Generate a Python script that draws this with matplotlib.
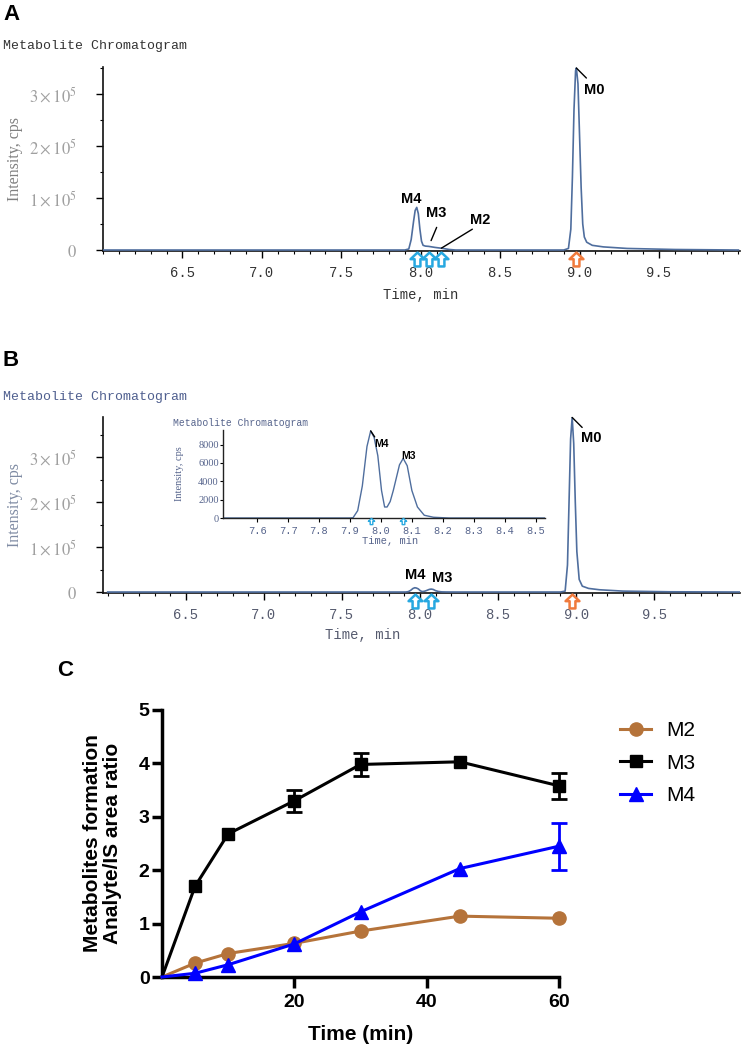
import matplotlib
matplotlib.use('Agg')
import matplotlib.pyplot as plt
import numpy as np
from matplotlib.path import Path
from matplotlib.ticker import MultipleLocator, FixedLocator, FuncFormatter

plt.rcParams['mathtext.fontset'] = 'stix'

# ---------------- data ----------------
# Panel A chromatogram (time in min, intensity in cps)
a_time = [6.00, 7.90, 7.925, 7.94, 7.955, 7.965, 7.975, 7.985, 7.995, 8.005, 8.015,
          8.03, 8.05, 8.07, 8.09, 8.11, 8.13, 8.15, 8.18, 8.22,
          8.90, 8.93, 8.945, 8.955, 8.965, 8.975, 8.98, 8.99, 9.00, 9.01, 9.02, 9.03, 9.045,
          9.08, 9.15, 9.30, 9.60, 10.00]
a_int = [0, 0, 2000, 20000, 55000, 76000, 82000, 70000, 40000, 17000, 9000,
         7500, 7000, 6000, 5000, 4200, 3500, 2500, 1000, 0,
         0, 3000, 40000, 140000, 270000, 345000, 350000, 320000, 220000, 120000, 50000, 25000, 15000,
         9000, 6000, 3000, 1000, 0]

# Panel B chromatogram (time in min, intensity in cps); also shown zoomed in the inset
b_time = [6.00, 7.90, 7.91, 7.925, 7.94, 7.955, 7.967, 7.978, 7.99, 8.002, 8.012,
          8.02, 8.03, 8.04, 8.05, 8.06, 8.072, 8.085, 8.10, 8.118, 8.14, 8.17, 8.22,
          8.90, 8.93, 8.945, 8.955, 8.965, 8.975, 8.985, 8.995, 9.005, 9.02, 9.04,
          9.08, 9.15, 9.30, 9.60, 10.05]
b_int = [0, 0, 30, 800, 3500, 7800, 9500, 8800, 6800, 3000, 1200,
         1200, 1800, 3000, 4400, 5800, 6500, 5700, 3000, 1200, 300, 80, 0,
         0, 2000, 60000, 200000, 340000, 388000, 330000, 200000, 90000, 28000, 13000,
         8000, 5000, 2000, 500, 0]

# metabolite markers (retention times)
a_metab_times = [7.975, 8.05, 8.13]
a_parent_time = [8.98]
b_metab_times = [7.967, 8.072]
b_parent_time = [8.975]

# Panel C: time course
c_time = [0, 5, 10, 20, 30, 45, 60]
m2_vals = [0, 0.26, 0.44, 0.63, 0.86, 1.14, 1.10]
m2_err = [0, 0, 0, 0, 0, 0, 0]
m3_vals = [0, 1.70, 2.68, 3.30, 3.98, 4.03, 3.58]
m3_err = [0, 0, 0, 0.21, 0.21, 0, 0.24]
m4_vals = [0, 0.07, 0.23, 0.62, 1.22, 2.03, 2.45]
m4_err = [0, 0, 0, 0, 0, 0, 0.44]
c_labels = ['M2', 'M3', 'M4']

# ---------------- figure ----------------
W, H = 742, 1047
fig = plt.figure(figsize=(W / 100, H / 100), dpi=100)


def fx(px):
    return px / W


def fy(py):
    return 1 - py / H


def rect(l, t, r, b):
    return [fx(l), fy(b), (r - l) / W, (b - t) / H]


trace_color = '#4f6e9e'
cyan = '#27a8e0'
orange = '#f07a3c'
mono = 'Liberation Mono'
serif = 'Liberation Serif'
sans = 'Liberation Sans'

arrow_path = Path([(0, 1), (-1, 0.05), (-0.42, 0.05), (-0.42, -1), (0.42, -1),
                   (0.42, 0.05), (1, 0.05), (0, 1)],
                  [Path.MOVETO] + [Path.LINETO] * 6 + [Path.CLOSEPOLY])


def sci_fmt(v, pos):
    if abs(v) < 1:
        return r'$0$'
    return r'$%d\times10^{5}$' % round(v / 1e5)


def chrom_axes(ax, times, ints, xlim, ylim, tick_col, ylab_col):
    ax.plot(times, ints, color=trace_color, lw=1.2, zorder=3)
    ax.set_xlim(*xlim)
    ax.set_ylim(*ylim)
    for s in ['top', 'right']:
        ax.spines[s].set_visible(False)
    for s in ['left', 'bottom']:
        ax.spines[s].set_linewidth(1.2)
        ax.spines[s].set_color('#111111')
    ax.xaxis.set_major_locator(FixedLocator([6.5, 7.0, 7.5, 8.0, 8.5, 9.0, 9.5]))
    ax.xaxis.set_minor_locator(MultipleLocator(0.1))
    ax.yaxis.set_major_locator(FixedLocator([0, 1e5, 2e5, 3e5]))
    ax.yaxis.set_minor_locator(MultipleLocator(0.5e5))
    ax.yaxis.set_major_formatter(FuncFormatter(sci_fmt))
    ax.xaxis.set_major_formatter(FuncFormatter(lambda v, p: '%.1f' % v))
    ax.tick_params(axis='x', which='major', length=5, width=1.0, pad=6,
                   labelsize=10, labelcolor=tick_col)
    ax.tick_params(axis='x', which='minor', length=2.5, width=0.8)
    ax.tick_params(axis='y', which='major', length=5, width=1.0, pad=14,
                   labelsize=12, labelcolor='#a0a0a0')
    ax.tick_params(axis='y', which='minor', length=2.5, width=0.8)
    for lab in ax.get_xticklabels():
        lab.set_family(mono)
    ax.set_xlabel('Time, min', family=mono, fontsize=10, color=tick_col)
    ax.set_ylabel('Intensity, cps', family=serif, fontsize=11.5, color=ylab_col)
    ax.patch.set_alpha(0)


def arrows(ax, times, color, yfrac, ms, mew):
    ax.plot(times, [yfrac] * len(times), linestyle='none', marker=arrow_path,
            ms=ms, mfc='white', mec=color, mew=mew,
            transform=ax.get_xaxis_transform(), clip_on=False, zorder=5)


def label(ax, times, ints, t, text, line_end=None, text_off=(0, 0), fs=10.5, shrink=0):
    i = float(np.interp(t, times, ints))
    if line_end is not None:
        ax.annotate('', xy=(t, i), xytext=line_end, textcoords='offset pixels',
                    arrowprops=dict(arrowstyle='-', lw=1.0, color='k',
                                    shrinkA=0, shrinkB=shrink))
    ax.annotate(text, xy=(t, i), xytext=text_off, textcoords='offset pixels',
                ha='center', va='center', fontsize=fs, fontweight='bold',
                family=sans, color='black')


# ----- Panel A -----
fig.text(fx(3), fy(14), 'A', fontsize=16, fontweight='bold', family=sans, va='center')
fig.text(fx(3), fy(46), 'Metabolite Chromatogram', fontsize=9.5, family=mono,
         color='#333333', va='center')
ax_a = fig.add_axes(rect(103, 67, 740, 251))
chrom_axes(ax_a, a_time, a_int, (6.0, 10.01), (-1900, 352000), '#333333', '#808080')
ax_a.yaxis.set_label_coords(-0.125, 0.5)
ax_a.xaxis.set_label_coords(0.498, -0.20)
arrows(ax_a, a_metab_times, cyan, -0.045, 10, 1.8)
arrows(ax_a, a_parent_time, orange, -0.045, 10, 1.8)
label(ax_a, a_time, a_int, 8.98, 'M0', line_end=(10, -10), text_off=(18, -22))
label(ax_a, a_time, a_int, 7.975, 'M4', text_off=(-5, 8))
label(ax_a, a_time, a_int, 8.05, 'M3', line_end=(8, 19), text_off=(8, 33), shrink=4.5)
label(ax_a, a_time, a_int, 8.13, 'M2', line_end=(31, 19), text_off=(39, 28))

# ----- Panel B -----
fig.text(fx(3), fy(361), 'B', fontsize=16, fontweight='bold', family=sans, va='center')
fig.text(fx(3), fy(397), 'Metabolite Chromatogram', fontsize=9.5, family=mono,
         color='#4f5f8f', va='center')
ax_b = fig.add_axes(rect(103, 417, 740, 593))
chrom_axes(ax_b, b_time, b_int, (5.97, 10.05), (-2200, 389000), '#555a6e', '#7f8ba3')
ax_b.yaxis.set_label_coords(-0.125, 0.5)
ax_b.xaxis.set_label_coords(0.407, -0.20)
arrows(ax_b, b_metab_times, cyan, -0.045, 10, 1.8)
arrows(ax_b, b_parent_time, orange, -0.045, 10, 1.8)
label(ax_b, b_time, b_int, 8.975, 'M0', line_end=(10, -10), text_off=(19, -21))
label(ax_b, b_time, b_int, 7.967, 'M4', text_off=(0, 13))
label(ax_b, b_time, b_int, 8.072, 'M3', text_off=(11, 11))

# ----- inset in B -----
inset_col = '#56648c'
ax_i = fig.add_axes(rect(223, 430, 545, 518))
ax_i.plot(b_time, b_int, color=trace_color, lw=1.0)
ax_i.set_xlim(7.49, 8.53)
ax_i.set_ylim(0, 9600)
for s in ['top', 'right']:
    ax_i.spines[s].set_visible(False)
for s in ['left', 'bottom']:
    ax_i.spines[s].set_linewidth(1.0)
    ax_i.spines[s].set_color('#222222')
ax_i.xaxis.set_major_locator(FixedLocator([7.6, 7.7, 7.8, 7.9, 8.0, 8.1, 8.2, 8.3, 8.4, 8.5]))
ax_i.yaxis.set_major_locator(FixedLocator([0, 2000, 4000, 6000, 8000]))
ax_i.xaxis.set_major_formatter(FuncFormatter(lambda v, p: '%.1f' % v))
ax_i.tick_params(axis='x', length=3, width=0.8, pad=3, labelsize=7.5, labelcolor=inset_col)
ax_i.tick_params(axis='y', length=2, width=0.8, pad=1, labelsize=7.5, labelcolor=inset_col)
for lab in ax_i.get_xticklabels():
    lab.set_family(mono)
for lab in ax_i.get_yticklabels():
    lab.set_family(serif)
ax_i.set_xlabel('Time, min', family=mono, fontsize=7.5, color=inset_col)
ax_i.xaxis.set_label_coords(0.52, -0.2)
ax_i.set_ylabel('Intensity, cps', family=serif, fontsize=7.5, color=inset_col)
ax_i.yaxis.set_label_coords(-0.12, 0.5)
ax_i.set_title('Metabolite Chromatogram', family=mono, fontsize=7, color=inset_col,
               loc='left', x=-0.155, y=1.0, pad=3)
arrows(ax_i, b_metab_times, cyan, -0.035, 4.5, 1.0)
label(ax_i, b_time, b_int, 7.967, 'M4', line_end=(4, -6), text_off=(11, -13), fs=7.5)
label(ax_i, b_time, b_int, 8.072, 'M3', text_off=(5, 2), fs=7.5)

# ----- Panel C -----
fig.text(fx(57), fy(670), 'C', fontsize=16, fontweight='bold', family=sans, va='center')
ax_c = fig.add_axes(rect(162, 710, 559, 977))
series = [(m2_vals, m2_err, '#b5733a', 'o', 9.5),
          (m3_vals, m3_err, '#000000', 's', 9),
          (m4_vals, m4_err, '#0000ff', '^', 10.5)]
handles = []
for (vals, err, col, mk, ms), lab in zip(series, c_labels):
    idx = [k for k, e in enumerate(err) if e > 0]
    if idx:
        ax_c.errorbar([c_time[k] for k in idx], [vals[k] for k in idx],
                      yerr=[err[k] for k in idx], fmt='none', ecolor=col,
                      elinewidth=2, capsize=6, capthick=2, clip_on=False, zorder=3)
    ln, = ax_c.plot(c_time, vals, color=col, lw=2.2, marker=mk, ms=ms,
                    markevery=slice(1, None), clip_on=False, zorder=4, label=lab)
    handles.append(ln)
ax_c.set_xlim(0, 60)
ax_c.set_ylim(0, 5)
for s in ['top', 'right']:
    ax_c.spines[s].set_visible(False)
for s in ['left', 'bottom']:
    ax_c.spines[s].set_linewidth(2.5)
ax_c.set_xticks([20, 40, 60])
ax_c.set_yticks([0, 1, 2, 3, 4, 5])
ax_c.tick_params(axis='both', width=2.5, labelsize=14)
ax_c.tick_params(axis='x', length=8, pad=4)
ax_c.tick_params(axis='y', length=7, pad=2)
for lab in ax_c.get_xticklabels() + ax_c.get_yticklabels():
    lab.set_family(sans)
    lab.set_fontweight('bold')
ax_c.set_xlabel('Time (min)', family=sans, fontweight='bold', fontsize=15)
ax_c.xaxis.set_label_coords(0.5, -0.178)
ax_c.set_ylabel('Metabolites formation\nAnalyte/IS area ratio', family=sans,
                fontweight='bold', fontsize=15, linespacing=1.1)
ax_c.yaxis.set_label_coords(-0.1, 0.5)
fig.legend(handles=handles, labels=c_labels, loc='upper left',
           bbox_to_anchor=(fx(620), fy(721)), frameon=False,
           prop={'family': sans, 'size': 15}, handlelength=1.5,
           handletextpad=0.7, labelspacing=0.65, borderpad=0, borderaxespad=0)

fig.savefig('out.png', dpi=100)
